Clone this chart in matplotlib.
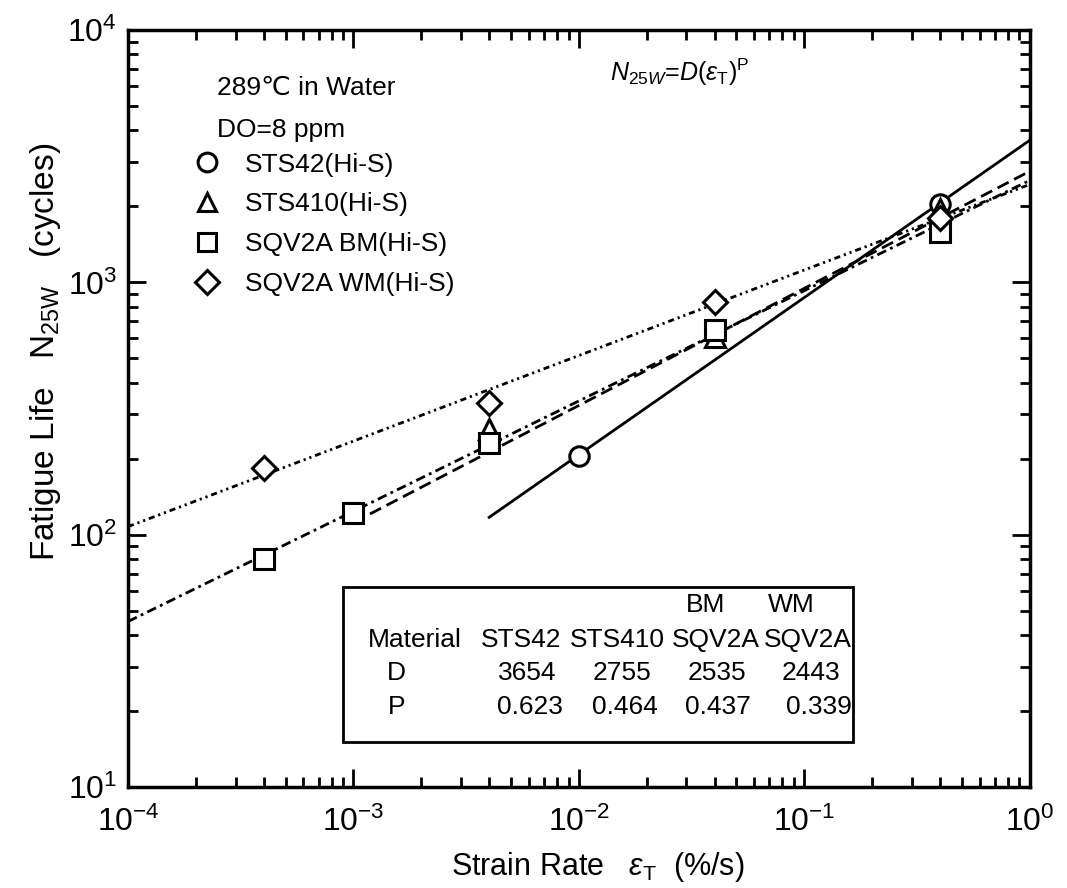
import numpy as np
import matplotlib.pyplot as plt
from matplotlib.lines import Line2D
from matplotlib.patches import Rectangle

plt.rcParams['font.family'] = ['Liberation Sans', 'DejaVu Sans']
plt.rcParams['mathtext.fontset'] = 'custom'
plt.rcParams['mathtext.rm'] = 'Liberation Sans'
plt.rcParams['mathtext.it'] = 'Liberation Sans:italic'

# measured fatigue lives (cycles) vs strain rate (%/s)
sts42_rate = [0.01, 0.4]
sts42_life = [205, 2050]
sts410_rate = [0.004, 0.04, 0.4]
sts410_life = [262, 610, 1950]
bm_rate = [0.0004, 0.001, 0.004, 0.04, 0.4]
bm_life = [80, 122, 231, 650, 1590]
wm_rate = [0.0004, 0.004, 0.04, 0.4]
wm_life = [184, 333, 836, 1800]

# fitted N25W = D * rate^P
materials = ['STS42', 'STS410', 'SQV2A', 'SQV2A']
subtags = ['', '', 'BM', 'WM']
D_vals = [3654, 2755, 2535, 2443]
P_vals = [0.623, 0.464, 0.437, 0.339]
fit_start = [0.004, 0.001, 1e-4, 1e-4]
styles = ['-', (0, (4.5, 2.2)), (0, (3.5, 1.6, 1, 1.6)), (0, (2.2, 1.4, 0.8, 1.4, 0.8, 1.4))]

fig = plt.figure(figsize=(10.67, 8.88), dpi=100)
ax = fig.add_axes([0.12, 0.1137, 0.845, 0.8525])

for D, P, x0, ls in zip(D_vals, P_vals, fit_start, styles):
    x = np.logspace(np.log10(x0), 0, 200)
    ax.plot(x, D * x ** P, color='black', lw=2, linestyle=ls)

mk = dict(linestyle='none', mfc='white', mec='black', mew=2.2, ms=14)
ax.plot(sts42_rate, sts42_life, marker='o', **mk)
ax.plot(sts410_rate, sts410_life, marker='^', **mk)
ax.plot(bm_rate, bm_life, marker='s', **mk)
ax.plot(wm_rate, wm_life, marker='D', **dict(mk, ms=12.5))

ax.set_xscale('log')
ax.set_yscale('log')
ax.set_xlim(1e-4, 1)
ax.set_ylim(10, 1e4)

for s in ax.spines.values():
    s.set_linewidth(2.5)
ax.tick_params(which='both', direction='in', top=True, right=True, width=2,
               labelsize=23)
ax.tick_params(axis='x', pad=14)
ax.tick_params(axis='y', pad=8)
ax.tick_params(which='major', length=13)
ax.tick_params(which='minor', length=7)

ax.set_xlabel(r'Strain Rate   $\varepsilon_{\mathrm{T}}$  (%/s)', fontsize=22)
ax.set_ylabel(r'Fatigue Life   N$_{\mathrm{25W}}$   (cycles)', fontsize=24)
ax.xaxis.set_label_coords(0.521, -0.083)
ax.yaxis.set_label_coords(-0.072, 0.575)

ax.text(0.099, 0.923, '289\u2103 in Water', transform=ax.transAxes, fontsize=19, va='center')
ax.text(0.099, 0.868, 'DO=8 ppm', transform=ax.transAxes, fontsize=19, va='center')
ax.text(0.612, 0.944, r'$N_{25W}$=$D$($\varepsilon_{\mathrm{T}}$)$^{\mathrm{P}}$',
        transform=ax.transAxes, fontsize=18, ha='center', va='center')

handles = [Line2D([], [], marker=m, **dict(mk, ms=13.5 if m != 'D' else 12))
           for m in ['o', '^', 's', 'D']]
labels = ['STS42(Hi-S)', 'STS410(Hi-S)', 'SQV2A BM(Hi-S)', 'SQV2A WM(Hi-S)']
ax.legend(handles, labels, loc='upper left', bbox_to_anchor=(0.0585, 0.852),
          frameon=False, fontsize=19, handletextpad=0.83, labelspacing=0.6,
          borderaxespad=0, handlelength=1.2)

# parameter table
ax.add_patch(Rectangle((0.2384, 0.0594), 0.5654, 0.2048, transform=ax.transAxes,
                       fill=False, lw=2, ec='black'))
tk = dict(transform=ax.transAxes, fontsize=19, ha='center', va='center')
col_x = [0.4357, 0.5432, 0.6519, 0.7539]
tag_x = [0, 0, 0.6408, 0.7361]
d_x = [0.4424, 0.5477, 0.6530, 0.7572]
p_x = [0.4457, 0.5510, 0.6541, 0.7661]
ax.text(0.318, 0.194, 'Material', **tk)
ax.text(0.298, 0.1506, 'D', **tk)
ax.text(0.298, 0.1057, 'P', **tk)
for i, (name, tag, D, P) in enumerate(zip(materials, subtags, D_vals, P_vals)):
    if tag:
        ax.text(tag_x[i], 0.240, tag, **tk)
    ax.text(col_x[i], 0.194, name, **tk)
    ax.text(d_x[i], 0.1506, str(D), **tk)
    ax.text(p_x[i], 0.1057, f'{P:.3f}', **tk)

fig.savefig('out.png', dpi=100)
